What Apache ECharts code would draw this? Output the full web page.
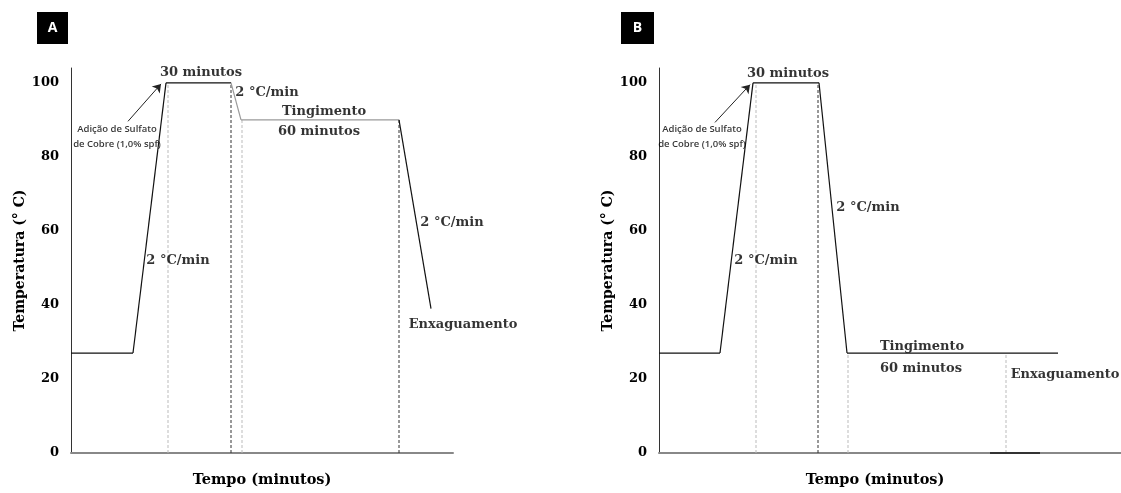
<!DOCTYPE html>
<html>
<head>
<meta charset="utf-8">
<script src="https://cdn.jsdelivr.net/npm/echarts@6/dist/echarts.min.js"></script>
<style>
html,body{margin:0;padding:0;background:#fff;overflow:hidden;}
#chart{width:1121px;height:493px;}
</style>
</head>
<body>
<div id="chart"></div>
<script>
// ---- Data (schematic time units, temperature in °C) ----
const yTickValues = [0, 20, 40, 60, 80, 100];

// Panel A: temperature profile
const profileA_time = [0, 62, 95, 160, 170, 328, 360];
const profileA_temp = [27, 27, 100, 100, 90, 90, 39];
const profileA_segmentShade = ['dark', 'dark', 'dark', 'grey', 'grey', 'dark'];
// Panel A: vertical guide lines
const guidesA_time = [97, 160, 171, 328];
const guidesA_top  = [100, 100, 90, 90];
const guidesA_kind = ['light', 'dark', 'light', 'dark'];
// Panel A: annotations [time, temp, text]
const labelsA_serif = [
  [130, 102.7, '30 minutos'],
  [196, 97.3, '2 °C/min'],
  [253, 92.3, 'Tingimento'],
  [248, 86.9, '60 minutos'],
  [381, 62.1, '2 °C/min'],
  [107, 52, '2 °C/min'],
  [392, 34.7, 'Enxaguamento']
];
const labelsA_note = [[46, 85.3, 'Adição de Sulfato\nde Cobre (1,0% spf)']];
const arrowA = [[57, 89.6], [90, 99.7]];

// Panel B: temperature profile
const profileB_time = [0, 61, 94, 160, 188, 399];
const profileB_temp = [27, 27, 100, 100, 27, 27];
const profileB_segmentShade = ['dark', 'dark', 'dark', 'dark', 'dark'];
const guidesB_time = [97, 159, 189, 347];
const guidesB_top  = [100, 100, 27, 27];
const guidesB_kind = ['light', 'dark', 'light', 'light'];
const labelsB_serif = [
  [129, 102.4, '30 minutos'],
  [209, 66.4, '2 °C/min'],
  [107, 52, '2 °C/min'],
  [263, 28.8, 'Tingimento'],
  [262, 22.9, '60 minutos'],
  [406, 21.3, 'Enxaguamento']
];
const labelsB_note = [[43, 85.5, 'Adição de Sulfato\nde Cobre (1,0% spf)']];
const arrowB = [[56, 89.3], [91, 99.5]];
const rinseB_time = [331, 381];
const rinseB_temp = [0, 0];

const panelLetters = ['A', 'B'];

// ---- Styling ----
const SERIF = '"DejaVu Serif", "Liberation Serif", serif';
const SANS = '"Open Sans", "Noto Sans", sans-serif';
const SHADE = { dark: '#111', grey: '#9a9a9a' };

function zip(a, b) { return a.map((v, i) => [v, b[i]]); }

function buildPanel(idx, profT, profY, shades, gT, gTop, gKind, serifLabels, noteLabels, arrow) {
  const s = [];
  for (let i = 0; i < profT.length - 1; i++) {
    s.push({
      type: 'line', xAxisIndex: idx, yAxisIndex: idx,
      data: [[profT[i], profY[i]], [profT[i + 1], profY[i + 1]]],
      symbol: 'none', lineStyle: { color: SHADE[shades[i]], width: 1.2 }, z: 5, silent: true
    });
  }
  s.push({
    type: 'line', xAxisIndex: idx, yAxisIndex: idx, data: [], symbol: 'none', silent: true,
    markLine: {
      silent: true, symbol: ['none', 'arrow'], symbolSize: 8,
      lineStyle: { color: '#222', width: 1, type: 'solid' },
      label: { show: false },
      data: [[{ coord: arrow[0] }, { coord: arrow[1] }]]
    }
  });
  gT.forEach((t, i) => {
    s.push({
      type: 'line', xAxisIndex: idx, yAxisIndex: idx,
      data: [[t, 0], [t, gTop[i]]], symbol: 'none', silent: true,
      lineStyle: {
        color: gKind[i] === 'dark' ? '#333' : '#bbb',
        width: 1, type: [3, 2]
      }, z: 3
    });
  });
  s.push({
    type: 'scatter', xAxisIndex: idx, yAxisIndex: idx, data: serifLabels,
    symbolSize: 0, silent: true, z: 10, clip: false,
    label: {
      show: true, position: 'inside', formatter: p => p.data[2],
      fontFamily: SERIF, fontWeight: 'bold', fontSize: 13, color: '#000'
    }
  });
  s.push({
    type: 'scatter', xAxisIndex: idx, yAxisIndex: idx, data: noteLabels,
    symbolSize: 0, silent: true, z: 10, clip: false,
    label: {
      show: true, position: 'inside', formatter: p => p.data[2],
      fontFamily: SANS, fontWeight: 600, fontSize: 9.5, color: '#000', lineHeight: 15, align: 'center'
    }
  });
  return s;
}

function yAx(idx) {
  return {
    type: 'value', gridIndex: idx, min: 0, max: 104, interval: 20,
    name: 'Temperatura (° C)', nameLocation: 'middle', nameGap: 44,
    nameTextStyle: { fontFamily: SERIF, fontWeight: 'bold', fontSize: 14, color: '#000' },
    axisLine: { show: true, lineStyle: { color: '#333', width: 1 } },
    axisTick: { show: false }, splitLine: { show: false },
    axisLabel: { showMaxLabel: false, margin: 12, fontFamily: SERIF, fontWeight: 'bold', fontSize: 13, color: '#000' }
  };
}
function xAx(idx, max, padRight) {
  return {
    type: 'value', gridIndex: idx, min: 0, max: max,
    name: 'Tempo (minutos)', nameLocation: 'middle', nameGap: 20,
    nameTextStyle: { fontFamily: SERIF, fontWeight: 'bold', fontSize: 14.5, color: '#000', padding: [0, padRight, 0, 0] },
    axisLine: { show: true, onZero: false, lineStyle: { color: '#888', width: 2 } },
    axisTick: { show: false }, splitLine: { show: false }, axisLabel: { show: false }
  };
}

const series = []
  .concat(buildPanel(0, profileA_time, profileA_temp, profileA_segmentShade, guidesA_time, guidesA_top, guidesA_kind, labelsA_serif, labelsA_note, arrowA))
  .concat(buildPanel(1, profileB_time, profileB_temp, profileB_segmentShade, guidesB_time, guidesB_top, guidesB_kind, labelsB_serif, labelsB_note, arrowB));
series.push({
  type: 'line', xAxisIndex: 1, yAxisIndex: 1, data: zip(rinseB_time, rinseB_temp),
  symbol: 'none', silent: true, z: 6, lineStyle: { color: '#333', width: 2 }
});

const chart = echarts.init(document.getElementById('chart'), null, { renderer: 'canvas', width: 1121, height: 493 });
chart.setOption({
  animation: false,
  backgroundColor: '#fff',
  grid: [
    { left: 71, width: 382, top: 68, height: 390 },
    { left: 659, width: 462, top: 68, height: 390 }
  ],
  xAxis: [xAx(0, 382, 0), xAx(1, 462, 30)],
  yAxis: [yAx(0), yAx(1)],
  graphic: [
    { type: 'group', left: 37, top: 12, children: [
      { type: 'rect', shape: { x: 0, y: 0, width: 31, height: 32 }, style: { fill: '#000' } },
      { type: 'text', x: 15.5, y: 16, style: { text: panelLetters[0], fill: '#fff', font: 'bold 14px "Open Sans", sans-serif', textAlign: 'center', textVerticalAlign: 'middle' } }
    ]},
    { type: 'group', left: 621, top: 12, children: [
      { type: 'rect', shape: { x: 0, y: 0, width: 33, height: 32 }, style: { fill: '#000' } },
      { type: 'text', x: 16.5, y: 16, style: { text: panelLetters[1], fill: '#fff', font: 'bold 14px "Open Sans", sans-serif', textAlign: 'center', textVerticalAlign: 'middle' } }
    ]}
  ],
  series: series
});
</script>
</body>
</html>
